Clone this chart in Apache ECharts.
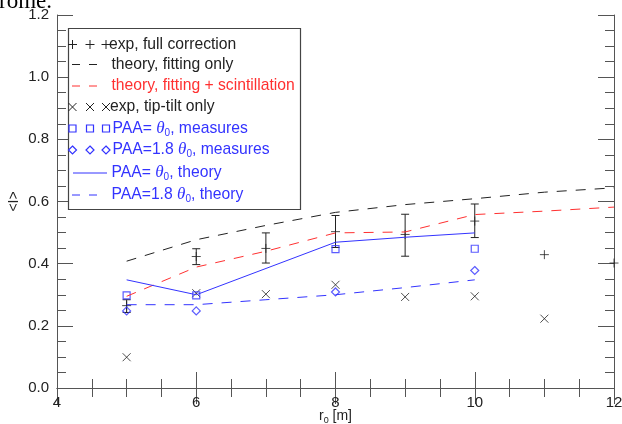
<!DOCTYPE html>
<html>
<head>
<meta charset="utf-8">
<script src="https://cdn.jsdelivr.net/npm/echarts@6/dist/echarts.min.js"></script>
<style>
  html, body { margin: 0; padding: 0; background: #fff; }
  #chart { width: 622px; height: 424px; }
</style>
</head>
<body>
<div id="chart"></div>
<script>
// r0 [m] positions and measured / modelled <I> values
const r0Full = [5, 6, 7, 8, 9, 10, 11, 12];
const fullCorrection = [0.265, 0.423, 0.449, 0.503, 0.494, 0.537, 0.429, 0.402];

const r0Err = [5, 6, 7, 8, 9, 10];
const errLow = [0.243, 0.397, 0.402, 0.452, 0.424, 0.484];
const errHigh = [0.284, 0.448, 0.499, 0.555, 0.559, 0.592];

const r0Theory = [5, 6, 7, 8, 9, 10, 11, 12];
const fittingOnly = [0.408, 0.477, 0.523, 0.565, 0.590, 0.609, 0.630, 0.644];
const fittingScint = [0.295, 0.389, 0.440, 0.499, 0.502, 0.558, 0.569, 0.582];

const r0TipTilt = [5, 6, 7, 8, 9, 10, 11];
const tipTilt = [0.099, 0.305, 0.302, 0.332, 0.293, 0.295, 0.223];

const r0Meas = [5, 6, 8, 10];
const paaMeas = [0.298, 0.298, 0.447, 0.448];
const paa18Meas = [0.248, 0.248, 0.309, 0.378];

const r0PaaTheory = [5, 6, 8, 9, 10];
const paaTheory = [0.348, 0.300, 0.469, 0.485, 0.499];

const r0Paa18Theory = [5, 6, 7, 8, 9, 10];
const paa18Theory = [0.268, 0.268, 0.284, 0.300, 0.323, 0.348];

const xRange = [4, 12];
const yRange = [0, 1.2];

const BLACK = '#222';
const RED = '#ff3030';
const BLUE = '#3333ff';
const AXIS = '#555';
const FONT = '"Liberation Sans", Arial, sans-serif';
const SERIF = '"Liberation Serif", "Times New Roman", serif';

const pts = (xs, ys) => xs.map((x, i) => [x, ys[i]]);

const PLUS = 'path://M0,5L10,5M5,0L5,10';
const CROSS = 'path://M0,0L10,10M10,0L0,10';

// major and minor ticks both point into the plot
const axisCommon = {
  axisLine: { show: true, lineStyle: { color: AXIS, width: 1 } },
  axisTick: { show: true, inside: true, length: 16, lineStyle: { color: AXIS } },
  minorTick: { show: true, splitNumber: 4, length: 9, lineStyle: { color: AXIS } },
  splitLine: { show: false },
  minorSplitLine: { show: false }
};

// legend drawn as plain graphics inside a framed box
const LX = 68, LY = 28, LW = 232, LH = 181;
const rows = [44.5, 64.5, 86, 107, 128.5, 150, 173, 195];
const sym = [72.5, 90, 106];
const legend = [];
legend.push({ type: 'rect', shape: { x: LX + 0.5, y: LY + 0.5, width: LW, height: LH },
  style: { fill: '#fff', stroke: '#444', lineWidth: 1.2 }, z: 100 });

function seg(x1, y1, x2, y2, color, dash) {
  legend.push({ type: 'line', shape: { x1, y1, x2, y2 },
    style: { stroke: color, lineWidth: 1, lineDash: dash || null }, z: 101 });
}
function label(x, y, text, color) {
  legend.push({ type: 'text', x, y, z: 101, style: {
    text, fill: color, font: '15.7px ' + FONT, verticalAlign: 'middle',
    rich: {
      t: { fontFamily: SERIF, fontStyle: 'italic', fontSize: 17, fill: color },
      s: { fontFamily: FONT, fontSize: 10, fill: color, verticalAlign: 'bottom', padding: [9, 0, 0, 0] }
    }
  } });
}
// row 1: + + +
sym.forEach(cx => { seg(cx - 4.5, rows[0], cx + 4.5, rows[0], BLACK); seg(cx, rows[0] - 4.5, cx, rows[0] + 4.5, BLACK); });
label(109, rows[0], 'exp, full correction', BLACK);
// rows 2/3: dashed samples
seg(72, rows[1], 80, rows[1], BLACK); seg(89, rows[1], 97, rows[1], BLACK);
label(111.5, rows[1], 'theory, fitting only', BLACK);
seg(72, rows[2], 80, rows[2], RED); seg(89, rows[2], 97, rows[2], RED);
label(111.5, rows[2], 'theory, fitting + scintillation', RED);
// row 4: x x x
sym.forEach(cx => { seg(cx - 4, rows[3] - 4, cx + 4, rows[3] + 4, BLACK); seg(cx - 4, rows[3] + 4, cx + 4, rows[3] - 4, BLACK); });
label(110, rows[3], 'exp, tip-tilt only', BLACK);
// row 5: squares
sym.forEach(cx => legend.push({ type: 'rect', z: 101, shape: { x: cx - 3.5, y: rows[4] - 3.5, width: 7, height: 7 },
  style: { fill: 'none', stroke: BLUE, lineWidth: 1.2 } }));
label(112.5, rows[4], 'PAA= {t|θ}{s|0}, measures', BLUE);
// row 6: diamonds
sym.forEach(cx => legend.push({ type: 'polygon', z: 101,
  shape: { points: [[cx, rows[5] - 4], [cx + 4, rows[5]], [cx, rows[5] + 4], [cx - 4, rows[5]]] },
  style: { fill: 'none', stroke: BLUE, lineWidth: 1.2 } }));
label(112.5, rows[5], 'PAA=1.8 {t|θ}{s|0}, measures', BLUE);
// row 7: solid
seg(73, rows[6], 107, rows[6], BLUE);
label(111.5, rows[6], 'PAA= {t|θ}{s|0}, theory', BLUE);
// row 8: dashed
seg(72, rows[7], 80, rows[7], BLUE); seg(89, rows[7], 97, rows[7], BLUE);
label(111.5, rows[7], 'PAA=1.8 {t|θ}{s|0}, theory', BLUE);

// stray caption fragment at the page top
legend.push({ type: 'text', x: -1, y: -10, z: 101, style: {
  text: 'rome.', font: '23px ' + SERIF, fill: '#000', verticalAlign: 'top' } });

const chart = echarts.init(document.getElementById('chart'), null, { renderer: 'canvas' });

const option = {
  animation: false,
  backgroundColor: '#fff',
  grid: { left: 57, right: 8, top: 15, bottom: 36, containLabel: false, outerBoundsMode: 'none' },
  xAxis: [
    Object.assign({
      type: 'value', min: xRange[0], max: xRange[1], interval: 2, position: 'bottom',
      name: 'r{s|0} [m]', nameLocation: 'middle', nameGap: 20, nameMoveOverlap: false,
      nameTextStyle: { color: '#222', fontFamily: FONT, fontSize: 14,
        rich: { s: { fontSize: 9, fontFamily: FONT, color: '#222', verticalAlign: 'bottom', padding: [8, 0, 0, 0] } } },
      axisLabel: { color: '#222', fontFamily: FONT, fontSize: 15, margin: 7 }
    }, axisCommon),
    Object.assign({
      type: 'value', min: xRange[0], max: xRange[1], interval: 2, position: 'top',
      axisLabel: { show: false }
    }, axisCommon)
  ],
  yAxis: [
    Object.assign({
      type: 'value', min: yRange[0], max: yRange[1], interval: 0.2, position: 'left',
      name: '<I>', nameLocation: 'middle', nameGap: 36, nameRotate: 90, nameMoveOverlap: false,
      nameTextStyle: { color: '#222', fontFamily: FONT, fontSize: 14 },
      axisLabel: { color: '#222', fontFamily: FONT, fontSize: 15, margin: 8,
        formatter: v => v.toFixed(1) }
    }, axisCommon),
    Object.assign({
      type: 'value', min: yRange[0], max: yRange[1], interval: 0.2, position: 'right',
      axisLabel: { show: false }
    }, axisCommon)
  ],
  graphic: legend,
  series: [
    {
      name: 'theory, fitting only', type: 'line', data: pts(r0Theory, fittingOnly),
      symbol: 'none', lineStyle: { color: BLACK, width: 1, type: [10, 9] }
    },
    {
      name: 'theory, fitting + scintillation', type: 'line', data: pts(r0Theory, fittingScint),
      symbol: 'none', lineStyle: { color: RED, width: 1, type: [10, 9] }
    },
    {
      name: 'PAA= theta0, theory', type: 'line', data: pts(r0PaaTheory, paaTheory),
      symbol: 'none', lineStyle: { color: BLUE, width: 1 }
    },
    {
      name: 'PAA=1.8 theta0, theory', type: 'line', data: pts(r0Paa18Theory, paa18Theory),
      symbol: 'none', lineStyle: { color: BLUE, width: 1, type: [10, 9] }
    },
    {
      name: 'error bars', type: 'custom',
      data: r0Err.map((x, i) => [x, errLow[i], errHigh[i]]),
      encode: { x: 0, y: [1, 2] },
      renderItem: (params, api) => {
        const lo = api.coord([api.value(0), api.value(1)]);
        const hi = api.coord([api.value(0), api.value(2)]);
        const w = 4;
        const st = { stroke: BLACK, lineWidth: 1 };
        return { type: 'group', children: [
          { type: 'line', shape: { x1: lo[0], y1: lo[1], x2: hi[0], y2: hi[1] }, style: st },
          { type: 'line', shape: { x1: lo[0] - w, y1: lo[1], x2: lo[0] + w, y2: lo[1] }, style: st },
          { type: 'line', shape: { x1: hi[0] - w, y1: hi[1], x2: hi[0] + w, y2: hi[1] }, style: st }
        ] };
      }
    },
    {
      name: 'exp, full correction', type: 'scatter', data: pts(r0Full, fullCorrection),
      symbol: PLUS, symbolSize: 9, clip: false,
      itemStyle: { color: 'transparent', borderColor: BLACK, borderWidth: 1 }
    },
    {
      name: 'exp, tip-tilt only', type: 'scatter', data: pts(r0TipTilt, tipTilt),
      symbol: CROSS, symbolSize: 8, clip: false,
      itemStyle: { color: 'transparent', borderColor: BLACK, borderWidth: 1 }
    },
    {
      name: 'PAA= theta0, measures', type: 'scatter', data: pts(r0Meas, paaMeas),
      symbol: 'rect', symbolSize: 7,
      itemStyle: { color: 'transparent', borderColor: BLUE, borderWidth: 1.2 }
    },
    {
      name: 'PAA=1.8 theta0, measures', type: 'scatter', data: pts(r0Meas, paa18Meas),
      symbol: 'diamond', symbolSize: 8,
      itemStyle: { color: 'transparent', borderColor: BLUE, borderWidth: 1.2 }
    }
  ]
};

chart.setOption(option);
</script>
</body>
</html>
